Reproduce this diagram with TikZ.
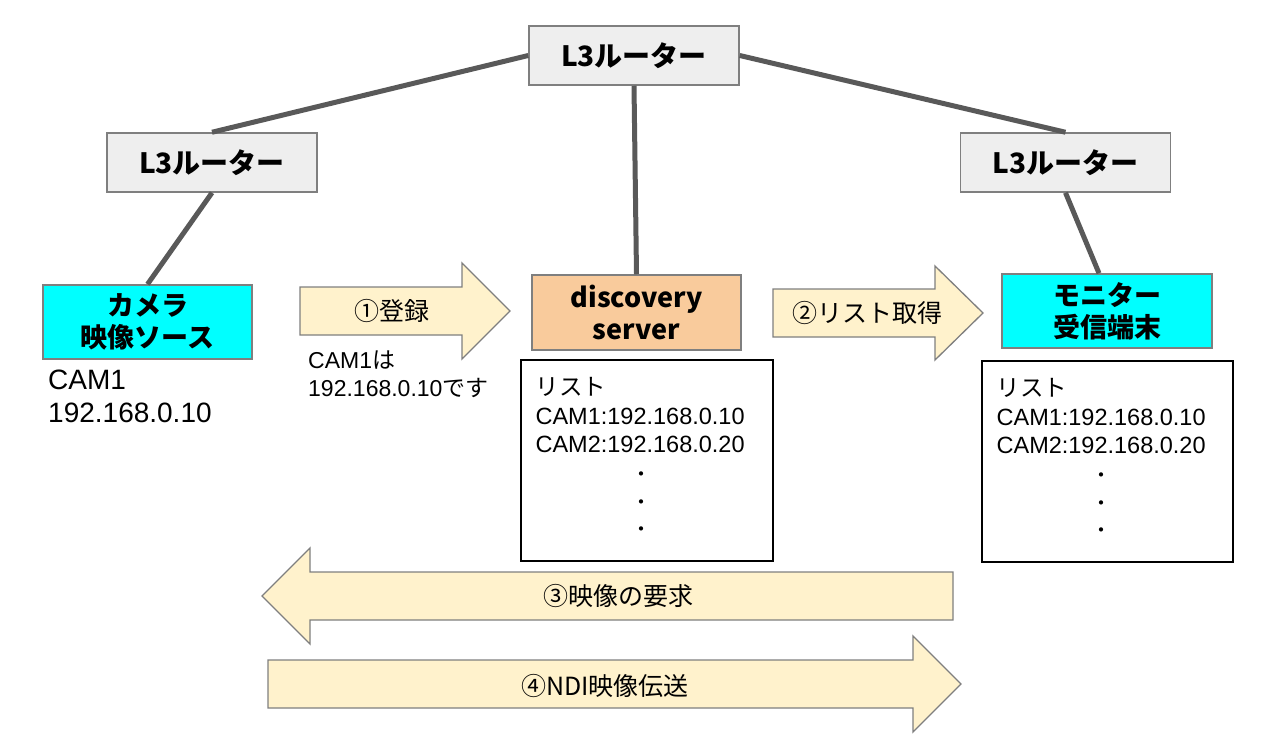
\documentclass[tikz,border=0pt]{standalone}
\usepackage{fontspec}
\setmainfont{Liberation Sans}
\newfontfamily\jp{Noto Sans CJK JP}
\usetikzlibrary{calc}
\definecolor{linkgray}{HTML}{595959}
\definecolor{boxgray}{HTML}{EEEEEE}
\definecolor{edgegray}{HTML}{7F7F7F}
\definecolor{camcyan}{HTML}{00FFFF}
\definecolor{srvfill}{HTML}{F9CB9C}
\definecolor{arrfill}{HTML}{FFF2CC}
\tikzset{
  router/.style={draw=edgegray, line width=1.5pt, fill=boxgray, minimum width=210pt, minimum height=59pt, inner sep=0pt, font=\jp\bfseries\fontsize{28}{30}\selectfont},
  devbox/.style={draw=edgegray, line width=1.5pt, minimum width=209pt, minimum height=74pt, inner sep=0pt, align=center, font=\jp\bfseries\fontsize{27}{32}\selectfont},
  listbox/.style={draw=black, line width=1.2pt, fill=white, minimum width=252pt, minimum height=201pt, inner sep=0pt},
  link/.style={draw=linkgray, line width=5pt},
  bigarrow/.style={draw=edgegray, line width=1.3pt, fill=arrfill},
  arrlabel/.style={font=\jp\fontsize{25}{28}\selectfont, inner sep=0pt},
  plain/.style={font=\fontsize{28}{33}\selectfont, align=left, inner sep=0pt},
  small/.style={font=\fontsize{23}{28}\selectfont, align=left, inner sep=0pt},
  listtxt/.style={font=\fontsize{23.5}{28.5}\selectfont, align=left, inner sep=0pt, anchor=north west},
  dotmark/.style={font=\jp\fontsize{20}{22}\selectfont, inner sep=0pt},
}
\begin{document}
\begin{tikzpicture}[x=1pt,y=-1pt]
\useasboundingbox (0,0) rectangle (1269,754);
% routers and devices
\node[router] (r0) at (634,55.5) {L3ルーター};
\node[router] (r1) at (212,162.5) {L3ルーター};
\node[router] (r2) at (1065.5,162.5) {L3ルーター};
\node[devbox, fill=camcyan] (cam) at (147.5,322) {カメラ\\映像ソース};
\node[devbox, fill=srvfill, minimum height=75pt] (srv) at (636.5,312.5) {discovery\\server};
\node[devbox, fill=camcyan, minimum width=210pt] (mon) at (1107,311) {モニター\\受信端末};
% links
\draw[link] (r0.west) -- (r1.north);
\draw[link] (r0.east) -- (r2.north);
\draw[link] (r0.south) -- (srv.north);
\draw[link] (r1.south) -- (cam.north);
\draw[link] (r2.south) -- ($(mon.north)+(-8,0)$);
% list boxes
\node[listbox] (list1) at (647,460.5) {};
\node[listbox, minimum width=251pt] (list2) at (1107.5,461.5) {};
\foreach \b in {list1,list2}{
  \node[listtxt] (\b t) at ($(\b.north west)+(15,18)$) {{\jp リスト}\\CAM1:192.168.0.10\\CAM2:192.168.0.20};
  \node[dotmark] (\b d1) at ($(\b.north)+(-6,117)$) {・};
  \node[dotmark] (\b d2) at ($(\b.north)+(-6,145)$) {・};
  \node[dotmark] (\b d3) at ($(\b.north)+(-6,172)$) {・};
}
% big arrows
\draw[bigarrow] (300,287) -- (462,287) -- (462,263) -- (510,311) -- (462,359) -- (462,335) -- (300,335) -- cycle;
\node[arrlabel] (a1) at (392,311) {①登録};
\draw[bigarrow] (773,289) -- (935,289) -- (935,266) -- (983,313) -- (935,360) -- (935,337) -- (773,337) -- cycle;
\node[arrlabel] (a2) at (867,313) {②リスト取得};
\draw[bigarrow] (953,572) -- (310,572) -- (310,548) -- (262,596) -- (310,644) -- (310,620) -- (953,620) -- cycle;
\node[arrlabel] (a3) at (618,596) {③映像の要求};
\draw[bigarrow] (268,660) -- (913,660) -- (913,636) -- (961,684) -- (913,732) -- (913,708) -- (268,708) -- cycle;
\node[arrlabel] (a4) at (605,686) {④NDI映像伝送};
% texts
\node[plain, anchor=north west] (camip) at (48,370) {CAM1\\192.168.0.10};
\node[small, anchor=north west] (note) at (308,351) {CAM1{\jp は}\\192.168.0.10{\jp です}};
\end{tikzpicture}
\end{document}
